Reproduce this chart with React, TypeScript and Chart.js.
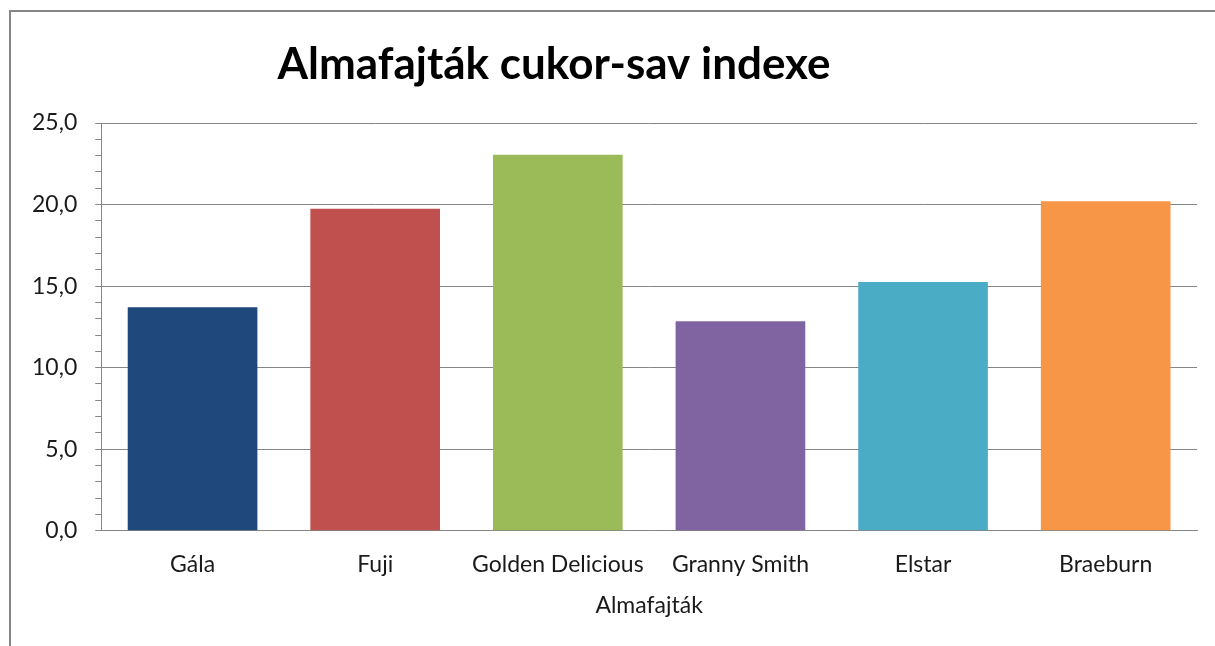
import React, { useEffect, useRef } from "react";
import { Chart, registerables } from "chart.js";

Chart.register(...registerables);

const TITLE = "Almafajták cukor-sav indexe";
const X_TITLE = "Almafajták";
const categories = ["Gála", "Fuji", "Golden Delicious", "Granny Smith", "Elstar", "Braeburn"];
const values = [13.7, 19.75, 23.05, 12.85, 15.25, 20.2];
const barColors = ["#1F497D", "#C0504D", "#9BBB59", "#8064A2", "#4BACC6", "#F79646"];
const Y_MIN = 0;
const Y_MAX = 25;
const Y_MAJOR = 5;
const Y_MINOR = 1;

const FONT = "Lato, 'Open Sans', sans-serif";
const GRAY = "#868686";

const titlePlugin = {
  id: "fixedTitle",
  afterDraw(chart: any) {
    const ctx = chart.ctx;
    ctx.save();
    ctx.font = `bold 44px ${FONT}`;
    ctx.fillStyle = "#000000";
    ctx.textAlign = "center";
    ctx.textBaseline = "middle";
    ctx.fillText(TITLE, 543, 53);
    ctx.restore();
  },
};

export default function App() {
  const ref = useRef<HTMLCanvasElement | null>(null);
  useEffect(() => {
    if (!ref.current) return;
    const chart = new Chart(ref.current, {
      type: "bar",
      data: {
        labels: categories,
        datasets: [
          {
            data: values,
            backgroundColor: barColors,
            borderWidth: 0,
            barPercentage: 0.71,
            categoryPercentage: 1,
          },
        ],
      },
      plugins: [titlePlugin],
      options: {
        responsive: false,
        animation: false,
        maintainAspectRatio: false,
        layout: { padding: { top: 111, left: 3, right: 18, bottom: 27 } },
        plugins: {
          legend: { display: false },
          tooltip: { enabled: false },
          title: { display: false },
        },
        scales: {
          x: {
            grid: { display: false, drawTicks: false },
            border: { color: GRAY, width: 1 },
            ticks: {
              color: "#1a1a1a",
              font: { family: FONT, size: 23 },
              padding: 20,
              maxRotation: 0,
              minRotation: 0,
              autoSkip: false,
            },
            title: {
              display: true,
              text: X_TITLE,
              color: "#1a1a1a",
              font: { family: FONT, size: 23 },
              padding: { top: -7, bottom: 0 },
            },
          },
          y: {
            min: Y_MIN,
            max: Y_MAX,
            border: { color: GRAY, width: 1 },
            grid: {
              color: (c: any) => (c.tick && Math.round(c.tick.value) % Y_MAJOR === 0 ? GRAY : "rgba(0,0,0,0)"),
              tickColor: GRAY,
              tickLength: 6,
              lineWidth: 1,
            },
            ticks: {
              stepSize: Y_MINOR,
              autoSkip: false,
              padding: 18,
              color: "#1a1a1a",
              font: { family: FONT, size: 23 },
              callback: (v: any) => (Math.round(v) % Y_MAJOR === 0 ? Number(v).toFixed(1).replace(".", ",") : ""),
            },
          },
        },
      },
    });
    return () => chart.destroy();
  }, []);
  return (
    <div
      style={{
        position: "fixed",
        left: 9,
        top: 10,
        width: 1206,
        height: 636,
        borderLeft: `2px solid ${GRAY}`,
        borderTop: `2px solid ${GRAY}`,
        background: "#fff",
      }}
    >
      <canvas ref={ref} width={1204} height={634} style={{ display: "block" }} />
    </div>
  );
}
